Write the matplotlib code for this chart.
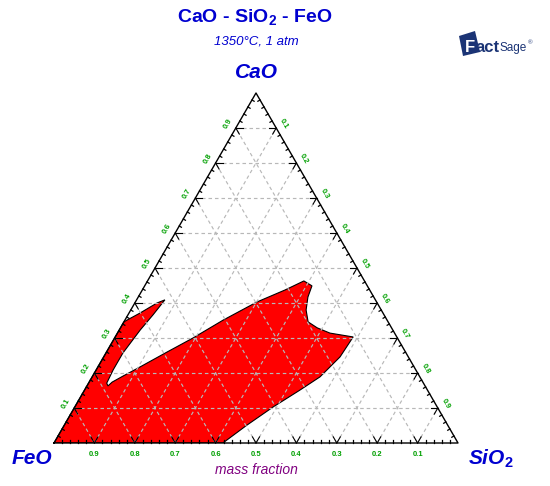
import numpy as np
import matplotlib.pyplot as plt
from matplotlib.patches import Polygon

plt.rcParams['font.family'] = ['Liberation Sans', 'DejaVu Sans']
plt.rcParams['mathtext.fontset'] = 'custom'
plt.rcParams['mathtext.rm'] = 'Liberation Sans:bold'
plt.rcParams['mathtext.it'] = 'Liberation Sans:italic:bold'
plt.rcParams['mathtext.bf'] = 'Liberation Sans:bold'

# liquid region at 1350 C, mass fractions (CaO, SiO2), FeO = 1 - CaO - SiO2
region_cao = [0.0, 0.0, 0.051, 0.103, 0.151, 0.189, 0.246, 0.303, 0.314, 0.329,
              0.346, 0.380, 0.417, 0.449, 0.463, 0.437, 0.403, 0.351, 0.300, 0.260,
              0.217, 0.191, 0.174, 0.163, 0.171, 0.209, 0.257, 0.323, 0.366, 0.409,
              0.400, 0.371, 0.351, 0.346]
region_sio2 = [0.0, 0.418, 0.452, 0.491, 0.533, 0.564, 0.585, 0.589, 0.526, 0.487,
               0.456, 0.434, 0.420, 0.414, 0.387, 0.353, 0.301, 0.243, 0.194, 0.150,
               0.104, 0.075, 0.057, 0.052, 0.045, 0.042, 0.042, 0.052, 0.062, 0.070,
               0.055, 0.027, 0.005, 0.0]

grid_vals = [0.1, 0.2, 0.3, 0.4, 0.5, 0.6, 0.7, 0.8, 0.9]
tick_labels = ['0.1', '0.2', '0.3', '0.4', '0.5', '0.6', '0.7', '0.8', '0.9']

W, H = 550, 486
R3 = np.sqrt(3) / 2


def tern(cao, sio2):
    cao = np.asarray(cao, dtype=float)
    sio2 = np.asarray(sio2, dtype=float)
    return sio2 + cao / 2, cao * R3


fig = plt.figure(figsize=(W / 100, H / 100), dpi=100)
ax = fig.add_axes([54 / W, 43 / H, 404 / W, 350 / H])
ax.set_xlim(0, 1)
ax.set_ylim(0, R3)
ax.axis('off')

# red region
x, y = tern(region_cao, region_sio2)
ax.add_patch(Polygon(np.column_stack([x, y]), closed=True, fc='#ff0000',
                     ec='black', lw=0.8, zorder=2))

# dashed grid
gkw = dict(color='#b8b8b8', lw=0.85, dashes=(3, 2.5), zorder=3)
for v in grid_vals:
    ax.plot(*tern([v, v], [0, 1 - v]), **gkw)
    ax.plot(*tern([0, 1 - v], [v, v]), **gkw)
    ax.plot(*tern([0, 1 - v], [1 - v, 0]), **gkw)

# triangle
ax.plot(*tern([0, 0, 1, 0], [0, 1, 0, 0]), color='black', lw=1.0, zorder=4,
        clip_on=False)

# ticks
L = 7 / 404
m = 2.5 / 404
up_r = np.array([0.5, R3])
up_l = np.array([-0.5, R3])
dn_r = np.array([0.5, -R3])
dn_l = np.array([-0.5, -R3])
hor = np.array([1.0, 0.0])
tkw = dict(color='black', lw=0.8, zorder=4, clip_on=False)
for v in grid_vals:
    for p, dirs in [(tern(0, v), [up_r, up_l]),
                    (tern(v, 0), [hor, dn_r]),
                    (tern(v, 1 - v), [-hor, dn_l])]:
        p = np.array(p)
        for d in dirs:
            q = p + L * d
            ax.plot([p[0], q[0]], [p[1], q[1]], **tkw)
minor = [i / 50 for i in range(1, 50) if i % 5 != 0]
for v in minor:
    for p, d in [(tern(0, v), np.array([0, 1.0])),
                 (tern(v, 0), np.array([R3, -0.5])),
                 (tern(v, 1 - v), np.array([-R3, -0.5]))]:
        p = np.array(p)
        q = p + m * d
        ax.plot([p[0], q[0]], [p[1], q[1]], color='black', lw=0.9, zorder=4,
                clip_on=False)

# edge labels
lkw = dict(color='#00a000', fontsize=5.5, fontweight='bold', ha='center',
           va='center', clip_on=False)
off = 9 / 404
for i, v in enumerate(grid_vals):
    px, py = tern(v, 0)
    ax.text(px - off * R3, py + off * 0.5, tick_labels[i], rotation=60, **lkw)
    px, py = tern(v, 1 - v)
    ax.text(px + off * R3, py + off * 0.5, tick_labels[8 - i], rotation=-60, **lkw)
    px, py = tern(0, v)
    ax.text(px, py - 11 / 404, tick_labels[8 - i], **lkw)

# overlay for texts in pixel coords
ov = fig.add_axes([0, 0, 1, 1], zorder=-1)
ov.set_xlim(0, W)
ov.set_ylim(H, 0)
ov.axis('off')

blue = '#0000d0'
ov.text(255, 17, 'CaO - SiO$_2$ - FeO', color=blue, fontsize=14,
        fontweight='bold', ha='center', va='center')
ov.text(256, 42, '1350°C, 1 atm', color=blue, fontsize=9.5, style='italic',
        ha='center', va='center')
ov.text(256, 73, 'CaO', color=blue, fontsize=15, fontweight='bold',
        style='italic', ha='center', va='center')
ov.text(32, 458, 'FeO', color=blue, fontsize=15, fontweight='bold',
        style='italic', ha='center', va='center')
ov.text(491, 459, 'SiO$_2$', color=blue, fontsize=15, fontweight='bold',
        style='italic', ha='center', va='center')
ov.text(256, 470, 'mass fraction', color='#800080', fontsize=10,
        style='italic', ha='center', va='center')

# FactSage logo
navy = '#1b3475'
ov.add_patch(Polygon([(459, 36), (475, 31), (480, 52), (463, 56)], closed=True,
                     fc=navy, ec='none'))
ov.text(465, 52, 'F', color='white', fontsize=12, fontweight='bold',
        ha='left', va='baseline')
ov.text(476, 52, 'act', color=navy, fontsize=12, fontweight='bold',
        ha='left', va='baseline')
ov.text(500, 51, 'Sage', color=navy, fontsize=8.5, ha='left', va='baseline')
ov.text(528, 44, '®', color=navy, fontsize=4.5, ha='left', va='baseline')

fig.savefig('out.png', dpi=100)
